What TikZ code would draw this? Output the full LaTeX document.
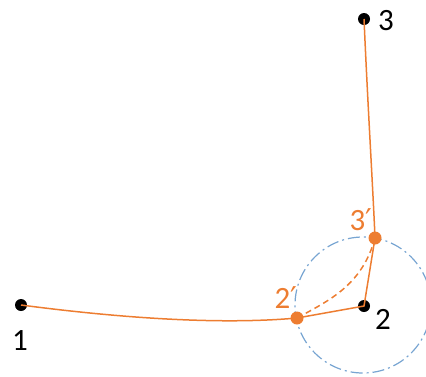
\documentclass[tikz,border=0pt]{standalone}
\usepackage{fontspec}
\setmainfont{Carlito}
\newfontfamily\dvfont{DejaVu Sans}
\begin{document}
\begin{tikzpicture}[x=0.5pt,y=-0.5pt,
  orng/.style={draw=myorange,line width=0.75pt},
  bdot/.style={circle,fill=black,inner sep=0pt,minimum size=6pt},
  odot/.style={circle,fill=myorange,inner sep=0pt,minimum size=6.5pt},
  lbl/.style={font=\fontsize{15.5}{15.5}\selectfont,inner sep=0pt},
  olbl/.style={lbl,text=myorange}]
\definecolor{myorange}{RGB}{237,125,49}
\definecolor{myblue}{RGB}{120,165,210}
\useasboundingbox (0,0) rectangle (426,376);
\coordinate (c) at (363,305);
\draw[myblue,line width=0.6pt,dash pattern=on 6pt off 2pt on 1pt off 2pt] (c) circle[radius=34pt];
\node[bdot] (p1) at (21,305) {};
\node[bdot] (p2) at (364,306) {};
\node[bdot] (p3) at (364,19) {};
\node[odot] (q2) at (297,318) {};
\node[odot] (q3) at (375,238) {};
\draw[orng] (p1.center) .. controls (120,318) and (220,325) .. (q2.center);
\draw[orng] (p3.center) .. controls (368,110) and (373,190) .. (q3.center);
\draw[orng] (q2.center) -- (p2.center) -- (q3.center);
\draw[orng,dash pattern=on 3pt off 2pt] (q2.center) .. controls (330,300) and (362,285) .. (q3.center);
\node[lbl] (l1) at (20,341) {1};
\node[lbl] (l2) at (383,319) {2};
\node[lbl] (l3) at (386,21) {3};
\node[olbl] (l2p) at (286,298) {2{\dvfont\fontsize{15}{15}\selectfont ′}};
\node[olbl] (l3p) at (361,220) {3{\dvfont\fontsize{15}{15}\selectfont ′}};
\end{tikzpicture}
\end{document}
